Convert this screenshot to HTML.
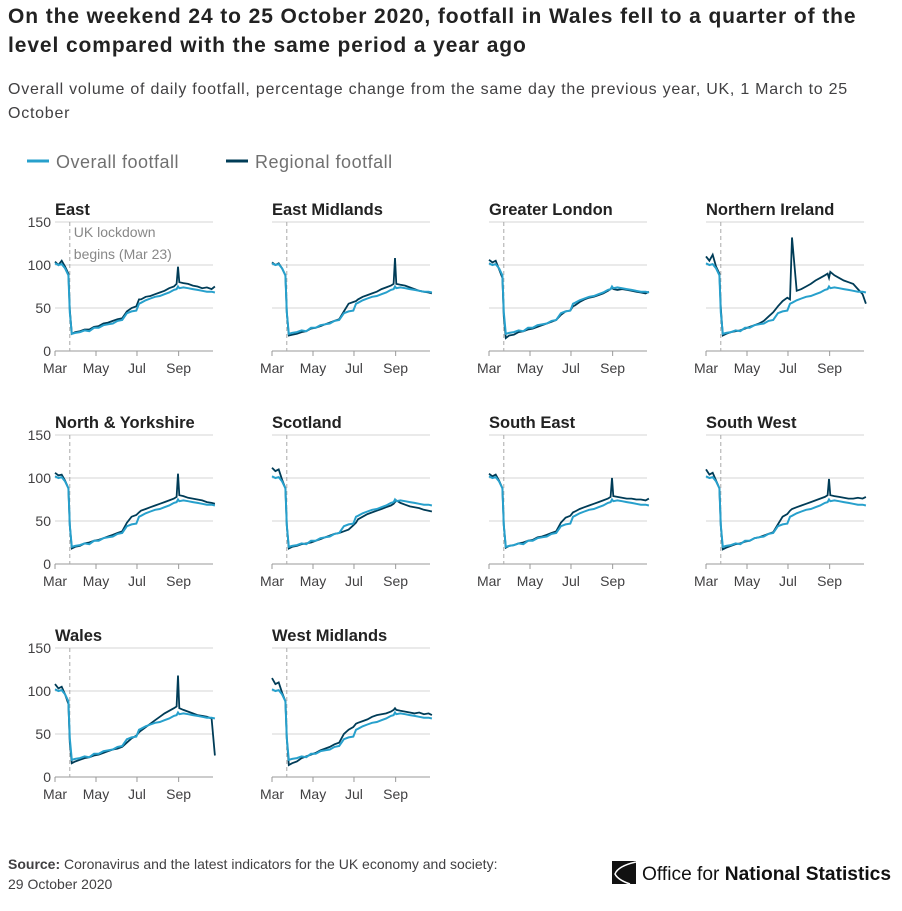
<!DOCTYPE html>
<html><head><meta charset="utf-8"><style>
body{margin:0;background:#fff;width:902px;height:911px;overflow:hidden;font-family:"Liberation Sans",sans-serif;}
#t{position:absolute;left:8px;top:2px;font-size:21px;letter-spacing:0.9px;font-weight:bold;color:#222;line-height:29px;width:894px;white-space:nowrap}
#s{position:absolute;left:8px;top:78px;font-size:16px;letter-spacing:0.75px;color:#414042;line-height:24px;width:894px;white-space:nowrap}
#src{position:absolute;left:8px;top:854px;font-size:14px;color:#414042;line-height:20px}
svg{position:absolute;left:0;top:0}
</style></head><body>
<div id="t">On the weekend 24 to 25 October 2020, footfall in Wales fell to a quarter of the<br>level compared with the same period a year ago</div>
<div id="s">Overall volume of daily footfall, percentage change from the same day the previous year, UK, 1 March to 25<br>October</div>
<div id="src"><b>Source:</b> Coronavirus and the latest indicators for the UK economy and society:<br>29 October 2020</div>
<svg id="c" width="902" height="911"></svg>
<script>
const days=[0,5,10,15,20,22,25,30,37,44,51,58,65,72,79,86,93,100,107,114,121,125,128,135,142,149,156,163,170,177,181,183,185,191,198,205,212,219,226,233,238];
const overall=[102,100,101,96,88,45,20,21,22,24,23,27,27,30,31,32,35,36,44,46,47,55,56,59,61,63,64,66,68,71,72,75,73,74,73,72,71,70,69,69,68];
const regionNames=["East","East Midlands","Greater London","Northern Ireland","North & Yorkshire","Scotland","South East","South West","Wales","West Midlands"];
const rEast=[104,100,105,98,90,48,20,22,23,25,25,28,29,32,33,35,37,38,46,50,52,60,60,63,64,66,68,70,73,75,78,98,80,79,78,76,75,73,74,72,75];
const rEastMid=[103,100,102,96,88,45,18,19,20,22,23,26,27,29,31,33,35,37,46,55,57,58,60,63,65,67,69,72,74,76,78,108,78,77,76,74,72,70,69,68,67];
const rLondon=[106,103,105,95,85,40,15,18,19,22,23,25,26,28,30,32,34,36,42,46,47,52,53,57,60,62,63,65,67,70,72,74,72,71,72,71,70,69,68,67,69];
const rNI=[110,105,112,98,90,50,18,20,22,23,24,26,28,30,32,35,40,45,52,58,62,60,132,70,72,75,78,82,85,88,90,85,92,88,85,82,80,78,72,66,55];
const rNorth=[106,103,104,97,88,45,18,20,21,24,25,27,28,30,32,34,36,38,48,55,57,60,62,64,66,68,70,72,74,76,78,105,80,79,77,76,75,74,72,71,70];
const rScot=[112,108,110,98,88,45,18,20,21,23,24,25,27,29,31,33,35,36,38,40,45,48,52,55,58,60,62,64,66,68,70,72,74,71,69,67,66,65,63,62,61];
const rSE=[105,102,104,97,88,45,19,21,22,24,25,27,28,31,32,34,36,38,48,54,56,60,61,64,66,68,70,72,74,76,78,100,79,78,77,76,76,75,75,74,76];
const rSW=[110,104,106,97,88,45,17,19,21,23,24,26,27,30,31,33,35,37,46,55,58,62,64,66,68,70,72,74,76,78,80,99,80,79,78,77,76,76,77,76,78];
const rWales=[108,103,105,96,85,40,16,18,20,22,23,25,26,28,30,32,33,35,40,45,48,52,54,58,62,66,70,74,77,80,82,118,80,78,76,74,72,71,70,68,25];
const rWM=[115,108,110,98,88,45,14,16,18,22,24,26,28,31,33,35,38,40,50,55,58,62,63,65,67,70,72,73,74,76,78,80,78,77,76,75,74,75,73,74,72];
const regional=[rEast,rEastMid,rLondon,rNI,rNorth,rScot,rSE,rSW,rWales,rWM];
const yTicks=[0,50,100,150];
const xTickDays=[0,61,122,184];
const xTickLabels=["Mar","May","Jul","Sep"];
const lockdownDay=22;

const NS="http://www.w3.org/2000/svg";
const svg=document.getElementById('c');
function mk(tag,attrs,parent){const e=document.createElementNS(NS,tag);for(const k in attrs)e.setAttribute(k,attrs[k]);(parent||svg).appendChild(e);return e;}
const lg=mk('g',{});


mk('line',{x1:27,x2:49,y1:161,y2:161,stroke:'#27a0cc','stroke-width':3},lg);
let t=mk('text',{x:56,y:168,'font-size':18,fill:'#707070','letter-spacing':0.5},lg);t.textContent='Overall footfall';
mk('line',{x1:226,x2:248,y1:161,y2:161,stroke:'#003c57','stroke-width':3},lg);
t=mk('text',{x:255,y:168,'font-size':18,fill:'#707070','letter-spacing':0.5},lg);t.textContent='Regional footfall';

const pxDay=0.672, pxUnit=0.86;
regionNames.forEach((name,i)=>{
  const col=i%4,row=Math.floor(i/4);
  const x0=55+col*217, y0=351+row*213, w=158;
  const X=d=>x0+d*pxDay, Y=v=>y0-v*pxUnit;
  const g=mk('g',{});
  
  
  yTicks.forEach(v=>{
    mk('line',{x1:x0,x2:x0+w,y1:Y(v),y2:Y(v),stroke:v===0?'#999':'#d5d5d5','stroke-width':1},g);
    if(col===0){const tt=mk('text',{x:x0-4,y:Y(v)+5,'font-size':14,fill:'#414042','text-anchor':'end'},g);tt.textContent=v;}
  });
  xTickDays.forEach((d,k)=>{
    mk('line',{x1:X(d),x2:X(d),y1:y0,y2:y0+5,stroke:'#999'},g);
    const tt=mk('text',{x:X(d),y:y0+22,'font-size':14,fill:'#414042','text-anchor':'middle'},g);tt.textContent=xTickLabels[k];
  });
  mk('line',{x1:X(lockdownDay),x2:X(lockdownDay),y1:Y(150),y2:y0,stroke:'#aaa','stroke-dasharray':'4,3'},g);
  if(i===0){
    let a=mk('text',{x:X(lockdownDay)+4,y:Y(150)+15,'font-size':14,fill:'#888'},g);a.textContent='UK lockdown';
    a=mk('text',{x:X(lockdownDay)+4,y:Y(150)+37,'font-size':14,fill:'#888'},g);a.textContent='begins (Mar 23)';
  }
  const tt=mk('text',{x:x0,y:Y(150)-7,'font-size':16.5,'font-weight':'bold',fill:'#222'},g);tt.textContent=name;
  const rp=mk('path',{d:days.map((d,k)=>(k?'L':'M')+X(d).toFixed(1)+','+Y(regional[i][k]).toFixed(1)).join(''),fill:'none',stroke:'#003c57','stroke-width':1.8},g);
  
  
  const op=mk('path',{d:days.map((d,k)=>(k?'L':'M')+X(d).toFixed(1)+','+Y(overall[k]).toFixed(1)).join(''),fill:'none',stroke:'#27a0cc','stroke-width':2},g);
  
  
});
const lo=mk('g',{});


mk('path',{d:'M612 861 L636 861 L636 884 L612 884 Z',fill:'#111'},lo);
mk('path',{d:'M636 862 Q618 866 615 874 Q618 880 630 884',fill:'none',stroke:'#fff','stroke-width':1.5},lo);
t=mk('text',{x:642,y:880,'font-size':19,fill:'#111','textLength':249,'lengthAdjust':'spacingAndGlyphs'},lo);t.innerHTML='Office for <tspan font-weight="bold">National Statistics</tspan>';
</script>
</body></html>
